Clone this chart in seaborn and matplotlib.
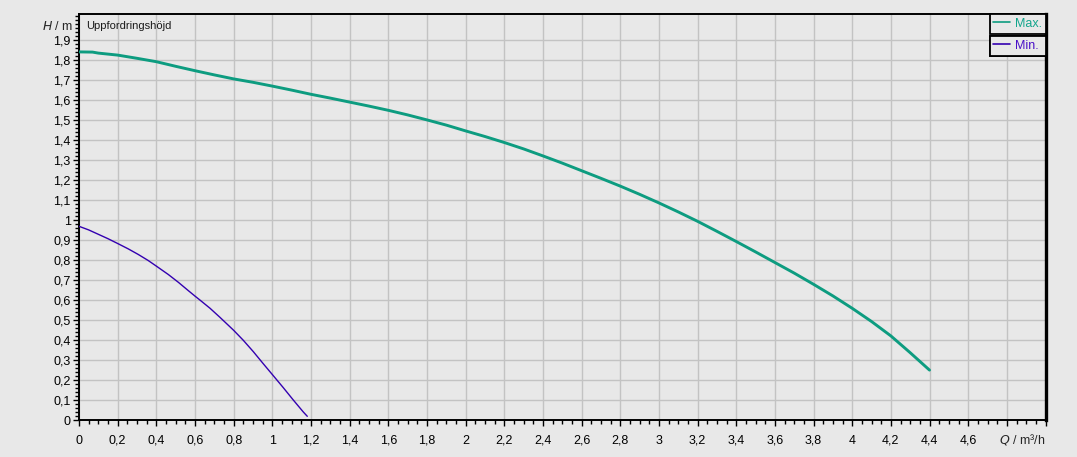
"""
Pump curve: head H over flow Q for max and min speed settings.
"""

import numpy as np
import pandas as pd
import seaborn as sns
import matplotlib.pyplot as plt
from matplotlib.ticker import MultipleLocator
from matplotlib.lines import Line2D

# Max curve (Q in m3/h, H in m)
q_max = [0.0, 0.07, 0.1, 0.2, 0.3, 0.4, 0.5, 0.6, 0.7, 0.8, 0.9, 1.0, 1.1,
         1.2, 1.3, 1.4, 1.5, 1.6, 1.7, 1.8, 1.9, 2.0, 2.1, 2.2, 2.3, 2.4,
         2.5, 2.6, 2.7, 2.8, 2.9, 3.0, 3.1, 3.2, 3.3, 3.4, 3.5, 3.6, 3.7,
         3.8, 3.9, 4.0, 4.1, 4.2, 4.3, 4.4]
h_max = [1.842, 1.841, 1.836, 1.826, 1.81, 1.793, 1.77, 1.748, 1.727, 1.707,
         1.69, 1.671, 1.651, 1.63, 1.611, 1.591, 1.571, 1.55, 1.527, 1.502,
         1.476, 1.447, 1.419, 1.389, 1.357, 1.322, 1.286, 1.248, 1.21, 1.171,
         1.13, 1.087, 1.042, 0.995, 0.945, 0.894, 0.842, 0.789, 0.736, 0.68,
         0.622, 0.56, 0.494, 0.422, 0.338, 0.251]

# Min curve
q_min = [0.0, 0.05, 0.1, 0.15, 0.2, 0.255, 0.307, 0.358, 0.4, 0.462, 0.514,
         0.566, 0.6, 0.626, 0.678, 0.729, 0.8, 0.85, 0.902, 0.954, 1.0,
         1.057, 1.109, 1.16, 1.181]
h_min = [0.97, 0.952, 0.93, 0.908, 0.884, 0.857, 0.829, 0.799, 0.771, 0.729,
         0.690, 0.648, 0.621, 0.601, 0.56, 0.515, 0.45, 0.400, 0.343, 0.282,
         0.229, 0.163, 0.101, 0.042, 0.02]

series = ["Max.", "Min."]
colors = {"Max.": "#0d9c80", "Min.": "#3300b0"}
text_colors = {"Max.": "#13a58c", "Min.": "#4a10c8"}

x_labels = [f"{v:g}".replace(".", ",") for v in np.round(np.arange(0, 4.61, 0.2), 1)]
y_labels = [f"{v:g}".replace(".", ",") for v in np.round(np.arange(0, 1.91, 0.1), 1)]

BG = "#e8e8e8"
W, H = 1077, 457
AX_L, AX_R, AX_T, AX_B = 79, 1045.5, 14, 420.3


def main():
    df = pd.concat([
        pd.DataFrame({"Q": q_max, "H": h_max, "curve": "Max."}),
        pd.DataFrame({"Q": q_min, "H": h_min, "curve": "Min."}),
    ])

    sns.set_theme(style="white")
    plt.rcParams["font.family"] = ["Liberation Sans", "DejaVu Sans"]

    fig = plt.figure(figsize=(W / 100, H / 100), dpi=100, facecolor=BG)
    ax = fig.add_axes([AX_L / W, (H - AX_B) / H,
                       (AX_R - AX_L) / W, (AX_B - AX_T) / H])
    ax.set_facecolor(BG)

    sns.lineplot(data=df, x="Q", y="H", hue="curve", palette=colors,
                 size="curve", sizes={"Max.": 2.1, "Min.": 1.0},
                 sort=False, legend=False, ax=ax, zorder=3)

    ax.set_xlim(0, 5)
    ax.set_ylim(0, (AX_B - AX_T) / 200)

    # grid and ticks
    x_ticks = np.round(np.arange(0, 5.01, 0.2), 1)
    y_ticks = np.round(np.arange(0, 1.91, 0.1), 1)
    ax.set_xticks(x_ticks, x_labels + ["", ""])
    ax.set_yticks(y_ticks, y_labels)
    ax.xaxis.set_minor_locator(MultipleLocator(0.05))
    ax.yaxis.set_minor_locator(MultipleLocator(0.02))
    ax.grid(True, which="major", color="#c3c3c3", lw=1.0, zorder=0)
    ax.set_axisbelow(True)

    ax.tick_params(which="major", direction="out", length=4.5, width=1.0,
                   color="black", labelsize=9, labelcolor="black",
                   bottom=True, left=True)
    ax.tick_params(which="minor", direction="out", length=2.6, width=1.0,
                   color="black", bottom=True, left=True)
    ax.tick_params(axis="x", pad=12.3)
    ax.tick_params(axis="y", pad=1.5)
    for lab in ax.get_xticklabels():
        lab.set_verticalalignment("baseline")

    for side in ["left", "bottom", "top"]:
        ax.spines[side].set_color("black")
        ax.spines[side].set_linewidth(1.4)
    ax.spines["right"].set_color("black")
    ax.spines["right"].set_linewidth(2.4)

    ax.set_xlabel("")
    ax.set_ylabel("")

    # axis unit labels
    fig.text(1045 / W, 1 - 443.5 / H, r"$Q$ / m³/h", ha="right",
             va="baseline", fontsize=9)
    fig.text(73 / W, 1 - 26 / H, r"$H$ / m", ha="right",
             va="center", fontsize=9)
    ax.text(7 / (AX_R - AX_L), 1 - 12 / (AX_B - AX_T), "Uppfordringshöjd",
            transform=ax.transAxes, ha="left", va="center", fontsize=8,
            color="#1a1a1a")

    # boxed legend entries stacked at top right
    box_w = (AX_R - 989.5) / (AX_R - AX_L)
    row_h = 22 / (AX_B - AX_T)
    for i, name in enumerate(series):
        handle = Line2D([], [], color=colors[name], lw=1.2)
        leg = ax.legend([handle], [name], loc="upper left",
                        bbox_to_anchor=(1 - box_w, 1 - (i + 1) * row_h,
                                        box_w, row_h),
                        mode="expand", frameon=True, fancybox=False,
                        edgecolor="black", facecolor=BG, framealpha=1,
                        fontsize=9, handlelength=1.3, handletextpad=0.45,
                        borderpad=0.3, borderaxespad=0,
                        labelcolor=text_colors[name])
        leg.get_frame().set_linewidth(1.3)
        ax.add_artist(leg)

    fig.savefig("out.png", dpi=100, facecolor=BG)


if __name__ == "__main__":
    main()
